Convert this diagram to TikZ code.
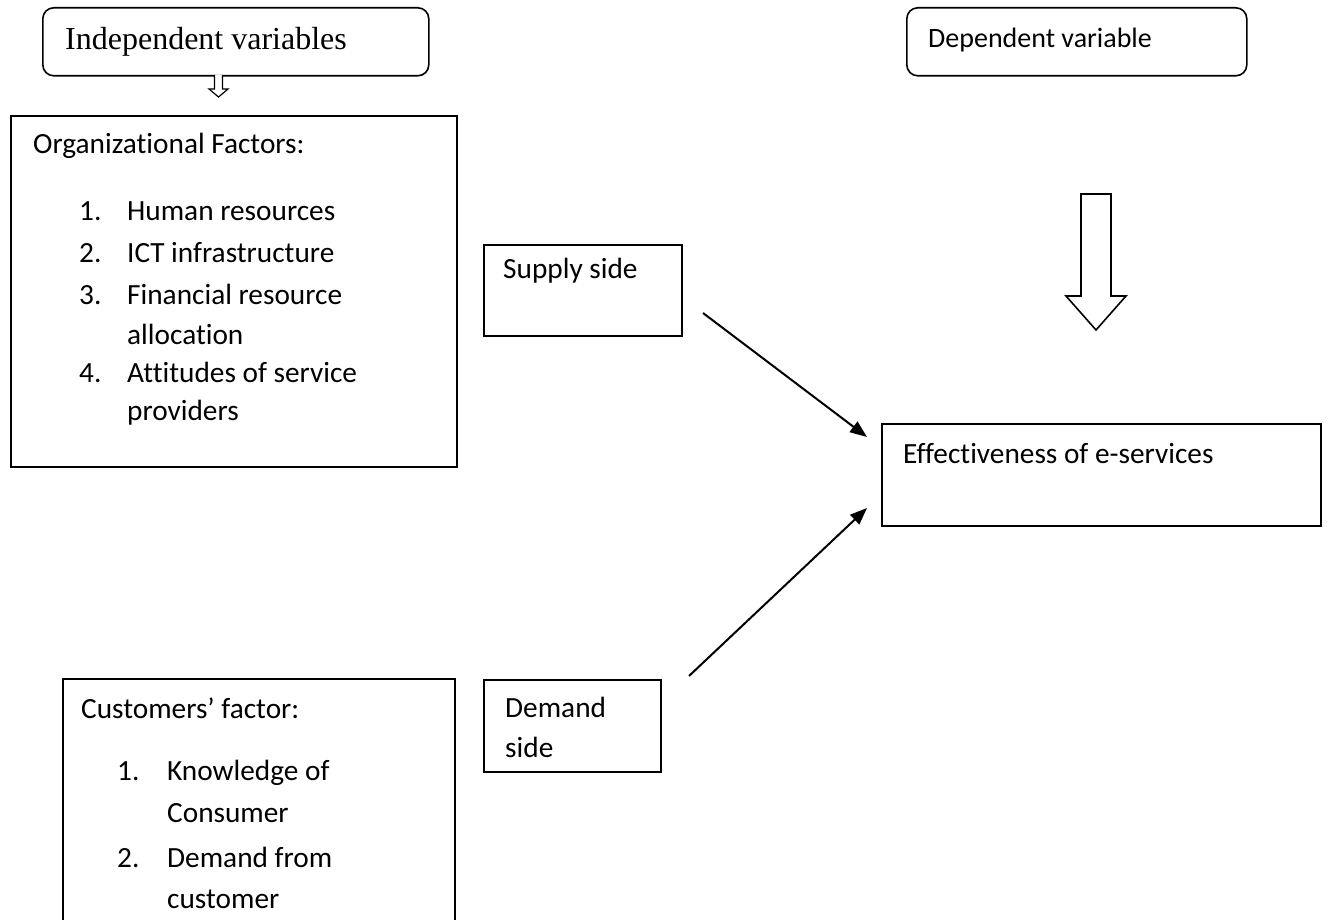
\documentclass[tikz,border=0pt]{standalone}
\usepackage{fontspec}
\setmainfont{Carlito}[Ligatures=NoCommon]
\newfontfamily\timesf{Liberation Serif}
\usetikzlibrary{arrows.meta}
\tikzset{
  boxline/.style={draw=black, line width=1.6pt},
  frame/.style={boxline, minimum width=#1, inner sep=0pt, anchor=north west},
  txt/.style={anchor=base west, inner sep=0pt, font=\fontsize{29.3}{35}\selectfont},
  serif/.style={anchor=base west, inner sep=0pt, font=\timesf\fontsize{32}{38}\selectfont},
  link/.style={line width=2pt, -{Triangle[length=17pt,width=13pt]}},
  hollow/.style={draw=black, line width=1.6pt, fill=white, line join=miter}
}
\begin{document}
\begin{tikzpicture}[x=1pt,y=-1pt]
\useasboundingbox (0,0) rectangle (1331,920);
% header boxes
\node[boxline, rounded corners=11pt, anchor=north west, minimum width=386pt, minimum height=68pt] (indep) at (42,7) {};
\node[serif] (indept) at (65,50) {Independent variables};
\node[boxline, rounded corners=11pt, anchor=north west, minimum width=340pt, minimum height=68pt] (dep) at (906,7) {};
\node[txt, font=\fontsize{28}{34}\selectfont] (dept) at (928,48) {Dependent variable};
% small hollow arrow
\draw[hollow, line width=1.2pt] (214.5,75) -- (214.5,89) -- (209,89) -- (218.5,97) -- (228,89) -- (222.5,89) -- (222.5,75);
% organizational box
\node[frame=446pt, minimum height=351pt] (org) at (10,115) {};
\node[txt] (orgt) at (33,154) {Organizational Factors:};
\node[txt] (o1n) at (79,221) {1.};
\node[txt] (o1) at (127,221) {Human resources};
\node[txt] (o2n) at (79,262) {2.};
\node[txt] (o2) at (127,262) {ICT infrastructure};
\node[txt] (o3n) at (79,305) {3.};
\node[txt] (o3) at (127,305) {Financial resource};
\node[txt] (o3b) at (127,344) {allocation};
\node[txt] (o4n) at (79,382) {4.};
\node[txt] (o4) at (127,382) {Attitudes of service};
\node[txt] (o4b) at (127,420) {providers};
% supply side
\node[frame=198pt, minimum height=91pt] (supply) at (483,244) {};
\node[txt] (supplyt) at (503,279) {Supply side};
% big hollow arrow
\draw[hollow] (1081,194) -- (1111,194) -- (1111,296) -- (1126,296) -- (1096,330) -- (1066,296) -- (1081,296) -- cycle;
% effectiveness box
\node[frame=439pt, minimum height=102pt] (eff) at (881,423) {};
\node[txt] (efft) at (903,463) {Effectiveness of e-services};
% demand side
\node[frame=177pt, minimum height=92pt] (demand) at (483,679) {};
\node[txt] (demandt) at (505,717) {Demand};
\node[txt] (demandt2) at (505,757) {side};
% customers box (open at bottom)
\coordinate (cbl) at (63,925);
\coordinate (ctl) at (63,679);
\coordinate (ctr) at (455,679);
\coordinate (cbr) at (455,925);
\draw[boxline] (cbl) -- (ctl) -- (ctr) -- (cbr);
\node[txt] (custt) at (81,718) {Customers’ factor:};
\node[txt] (c1n) at (117,780) {1.};
\node[txt] (c1) at (167,780) {Knowledge of};
\node[txt] (c1b) at (167,822) {Consumer};
\node[txt] (c2n) at (117,867) {2.};
\node[txt] (c2) at (167,867) {Demand from};
\node[txt] (c2b) at (167,908) {customer};
% connectors
\coordinate (s1) at (703,313);
\coordinate (e1) at (867,437);
\coordinate (s2) at (689,676);
\coordinate (e2) at (867,508);
\draw[link] (s1) -- (e1);
\draw[link] (s2) -- (e2);
\end{tikzpicture}
\end{document}
